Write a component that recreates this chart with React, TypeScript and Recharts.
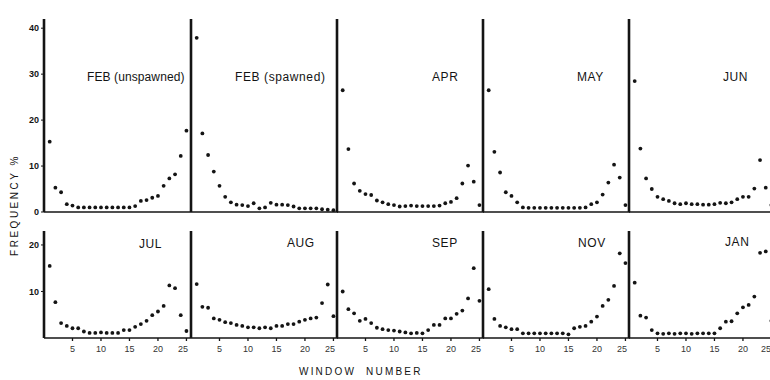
import { ScatterChart, Scatter, XAxis, YAxis } from 'recharts';

// window numbers (x categories) shared by every panel
const WINDOWS = [1, 2, 3, 4, 5, 6, 7, 8, 9, 10, 11, 12, 13, 14, 15, 16, 17, 18, 19, 20, 21, 22, 23, 24, 25];

// frequency % per window
const FEB_UNSPAWNED = [15.3, 5.3, 4.3, 1.7, 1.4, 1.0, 1.0, 1.0, 1.0, 1.0, 1.0, 1.0, 1.0, 1.0, 1.0, 1.3, 2.4, 2.6, 3.1, 3.5, 5.7, 7.3, 8.2, 12.2, 17.7];
const FEB_SPAWNED = [37.9, 17.1, 12.4, 8.8, 5.7, 3.3, 2.1, 1.6, 1.5, 1.3, 1.9, 0.8, 1.0, 2.0, 1.6, 1.6, 1.5, 1.2, 0.8, 0.8, 0.8, 0.8, 0.6, 0.5, 0.4];
const APR = [26.5, 13.7, 6.2, 4.6, 3.9, 3.7, 2.5, 2.1, 1.7, 1.5, 1.2, 1.3, 1.4, 1.3, 1.3, 1.3, 1.3, 1.4, 1.9, 2.2, 3.0, 6.2, 10.1, 6.6, 1.5];
const MAY = [26.5, 13.1, 8.6, 4.3, 3.5, 2.1, 1.0, 0.9, 0.9, 0.9, 0.9, 0.9, 0.9, 0.9, 0.9, 0.9, 0.9, 1.0, 1.7, 2.1, 3.8, 6.4, 10.3, 7.5, 1.5];
const JUN = [28.5, 13.8, 7.3, 5.0, 3.3, 2.8, 2.4, 1.9, 1.7, 1.9, 1.7, 1.7, 1.6, 1.6, 1.7, 2.0, 1.9, 2.1, 2.8, 3.3, 3.3, 5.1, 11.3, 5.3, 1.5];
const JUL = [15.5, 7.7, 3.2, 2.6, 2.1, 2.1, 1.4, 1.1, 1.1, 1.2, 1.1, 1.1, 1.1, 1.7, 1.7, 2.4, 3.0, 3.7, 4.9, 5.7, 6.9, 11.3, 10.7, 4.9, 1.5];
const AUG = [11.6, 6.7, 6.5, 4.2, 3.9, 3.4, 3.2, 2.8, 2.6, 2.3, 2.3, 2.1, 2.3, 2.1, 2.6, 2.6, 3.0, 3.0, 3.5, 3.9, 4.2, 4.4, 7.5, 11.5, 4.7];
const SEP = [10.0, 6.2, 5.3, 3.7, 4.1, 3.2, 2.2, 1.9, 1.7, 1.6, 1.4, 1.2, 1.0, 1.1, 1.0, 1.7, 2.8, 2.8, 4.2, 4.2, 5.2, 5.9, 8.5, 15.0, 8.0];
const NOV = [10.5, 4.1, 2.6, 2.3, 1.9, 1.9, 1.0, 1.0, 1.0, 1.0, 1.0, 1.0, 1.0, 1.0, 0.8, 2.1, 2.4, 2.6, 3.5, 4.6, 6.9, 8.2, 11.2, 18.2, 16.1];
const JAN = [11.9, 4.8, 4.4, 1.7, 1.0, 0.9, 1.0, 0.9, 1.0, 1.0, 0.9, 1.0, 1.0, 1.0, 1.0, 2.1, 3.5, 3.6, 5.3, 6.6, 7.1, 8.9, 18.3, 18.6, 3.7];

const TOP_PANELS = ['FEB (unspawned)', 'FEB (spawned)', 'APR', 'MAY', 'JUN'];
const BOTTOM_PANELS = ['JUL', 'AUG', 'SEP', 'NOV', 'JAN'];
const TOP_SERIES = [FEB_UNSPAWNED, FEB_SPAWNED, APR, MAY, JUN];
const BOTTOM_SERIES = [JUL, AUG, SEP, NOV, JAN];

const X_TICKS = [5, 10, 15, 20, 25];
const TOP_Y_TICKS = [0, 10, 20, 30, 40];
const BOTTOM_Y_TICKS = [10, 20];

// layout
const AXIS_X = [44, 191, 337, 483, 629];
const PANEL_W = 147;
const Y_W = 34;
const X_H = 18;
const INK = '#141414';
const FONT = '"Liberation Sans", Arial, sans-serif';

// label positions (left, top) per panel
const TOP_LABEL_POS = [[87, 70], [235, 70], [432, 70], [577, 70], [723, 70]];
const BOTTOM_LABEL_POS = [[139, 237], [287, 236], [432, 236], [578, 236], [725, 235]];

const dot = (p: any) => <circle cx={p.cx} cy={p.cy} r={1.9} fill={INK} />;

// x tick label; the last panel's "25" sits at the page edge, so anchor it to the end
function XTick(props: any) {
  const { x, y, payload, lastCol } = props;
  const atEdge = lastCol && payload.value === 25;
  return (
    <text x={atEdge ? x + 3 : x} y={y + 9} textAnchor={atEdge ? 'end' : 'middle'} fontSize={9} fill="#333" fontFamily={FONT}>
      {payload.value}
    </text>
  );
}

function Panel({
  values, col, top, height, domainMax, yTicks, showXLabels,
}: {
  values: number[]; col: number; top: number; height: number; domainMax: number;
  yTicks: number[]; showXLabels: boolean;
}) {
  const data = WINDOWS.map((w, i) => ({ w, v: values[i] }));
  const first = col === 0;
  return (
    <div style={{ position: 'absolute', left: AXIS_X[col] - Y_W, top }}>
      <ScatterChart width={Y_W + PANEL_W} height={height + X_H} margin={{ top: 0, right: 0, bottom: 0, left: 0 }}>
        <XAxis
          type="number"
          dataKey="w"
          domain={[0, 25.8]}
          ticks={X_TICKS}
          allowDataOverflow
          height={X_H}
          stroke={INK}
          strokeWidth={1.3}
          tickSize={3}
          tick={showXLabels ? <XTick lastCol={col === AXIS_X.length - 1} /> : false}
          tickLine={{ stroke: INK }}
        />
        <YAxis
          type="number"
          dataKey="v"
          domain={[0, domainMax]}
          ticks={first ? yTicks : []}
          allowDataOverflow
          width={Y_W}
          stroke={INK}
          strokeWidth={2.6}
          tickSize={3}
          tick={first ? { fontSize: 9, fill: INK, fontWeight: 'bold', fontFamily: FONT } : false}
          tickLine={{ stroke: INK, strokeWidth: 1 }}
        />
        <Scatter data={data} shape={dot} isAnimationActive={false} />
      </ScatterChart>
    </div>
  );
}

export default function App() {
  const labelStyle = {
    position: 'absolute' as const,
    fontFamily: FONT,
    fontSize: 12,
    color: INK,
    letterSpacing: 0.6,
    whiteSpace: 'nowrap' as const,
  };
  return (
    <div style={{ position: 'fixed', left: 0, top: 0, width: 770, height: 380, background: '#fff', overflow: 'hidden' }}>
      {TOP_SERIES.map((s, i) => (
        <Panel key={TOP_PANELS[i]} values={s} col={i} top={19} height={193} domainMax={42} yTicks={TOP_Y_TICKS} showXLabels={false} />
      ))}
      {BOTTOM_SERIES.map((s, i) => (
        <Panel key={BOTTOM_PANELS[i]} values={s} col={i} top={231} height={107} domainMax={23} yTicks={BOTTOM_Y_TICKS} showXLabels />
      ))}
      {TOP_PANELS.map((name, i) => (
        <div
          key={name}
          style={{ ...labelStyle, letterSpacing: i === 0 ? 0.1 : 0.6, left: TOP_LABEL_POS[i][0], top: TOP_LABEL_POS[i][1] }}
        >
          {name}
        </div>
      ))}
      {BOTTOM_PANELS.map((name, i) => (
        <div key={name} style={{ ...labelStyle, left: BOTTOM_LABEL_POS[i][0], top: BOTTOM_LABEL_POS[i][1] }}>{name}</div>
      ))}
      <div
        style={{
          ...labelStyle,
          fontSize: 10,
          letterSpacing: 2.5,
          left: 14,
          top: 205,
          transform: 'translate(-50%, -50%) rotate(-90deg)',
        }}
      >
        FREQUENCY %
      </div>
      <div style={{ ...labelStyle, fontSize: 10, letterSpacing: 2.2, left: 299, top: 366 }}>WINDOW&nbsp;&nbsp;NUMBER</div>
    </div>
  );
}
